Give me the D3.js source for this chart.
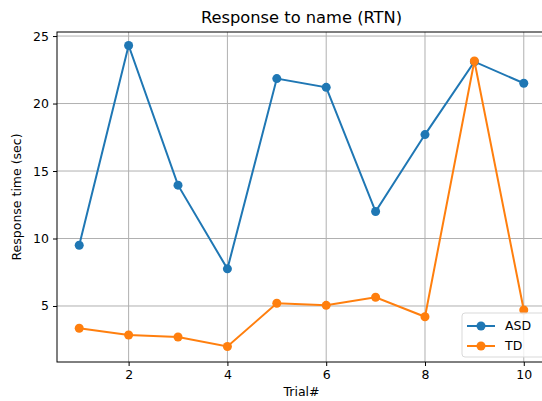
<!DOCTYPE html>
<html>
<head>
<meta charset="utf-8">
<script src="https://cdn.jsdelivr.net/npm/d3@7"></script>
<style>
	body { margin: 0; background: #fff; }
	svg { display: block; font-family: 'DejaVu Sans', sans-serif; }
</style>
</head>
<body>
<svg id="chart"></svg>
<script>
// data
const trials = [1, 2, 3, 4, 5, 6, 7, 8, 9, 10] ;
const asd = [9.5, 24.3, 13.95, 7.75, 21.85, 21.2, 12.0, 17.7, 23.1, 21.5] ;
const td = [3.35, 2.85, 2.7, 2.0, 5.2, 5.05, 5.65, 4.2, 23.15, 4.7] ;
const xTicks = [2, 4, 6, 8, 10] ;
const yTicks = [5, 10, 15, 20, 25] ;
const seriesNames = ['ASD', 'TD'] ;
const seriesColors = ['#1f77b4', '#ff7f0e'] ;

const geom = {
	width: 542,
	height: 401,
	margins: { top: 32, right: -4, bottom: 39, left: 57 }
} ;

const x = d3.scaleLinear()
	.domain([0.55, 10.45])
	.range([geom.margins.left, geom.width - geom.margins.right]) ;
const y = d3.scaleLinear()
	.domain([0.85, 25.3])
	.range([geom.height - geom.margins.bottom, geom.margins.top]) ;

const svg = d3.select('#chart')
	.attr('width', geom.width)
	.attr('height', geom.height) ;

const x0 = x.range()[0], x1 = x.range()[1] ;
const y0 = y.range()[0], y1 = y.range()[1] ;

// grid
svg.selectAll('line.vgrid')
	.data(xTicks)
	.enter()
	.append('line')
	.attr('class', 'vgrid')
	.attr('x1', d => x(d)).attr('x2', d => x(d))
	.attr('y1', y0).attr('y2', y1)
	.attr('stroke', '#b0b0b0')
	.attr('stroke-width', 1) ;

svg.selectAll('line.hgrid')
	.data(yTicks)
	.enter()
	.append('line')
	.attr('class', 'hgrid')
	.attr('x1', x0).attr('x2', x1)
	.attr('y1', d => y(d)).attr('y2', d => y(d))
	.attr('stroke', '#b0b0b0')
	.attr('stroke-width', 1) ;

// series
const line = d3.line()
	.x((d, i) => x(trials[i]))
	.y(d => y(d)) ;

[asd, td].forEach((vals, k) => {
	svg.append('path')
		.datum(vals)
		.attr('d', line)
		.attr('fill', 'none')
		.attr('stroke', seriesColors[k])
		.attr('stroke-width', 2) ;
	svg.selectAll('circle.s' + k)
		.data(vals)
		.enter()
		.append('circle')
		.attr('class', 's' + k)
		.attr('cx', (d, i) => x(trials[i]))
		.attr('cy', d => y(d))
		.attr('r', 4.5)
		.attr('fill', seriesColors[k]) ;
}) ;

// frame
svg.append('rect')
	.attr('x', x0).attr('y', y1)
	.attr('width', x1 - x0).attr('height', y0 - y1)
	.attr('fill', 'none')
	.attr('stroke', '#000')
	.attr('stroke-width', 1) ;

// axes
const xAxis = svg.append('g')
	.attr('transform', 'translate(0,' + y0 + ')')
	.call(d3.axisBottom(x).tickValues(xTicks).tickSize(4).tickPadding(4)) ;
const yAxis = svg.append('g')
	.attr('transform', 'translate(' + x0 + ',0)')
	.call(d3.axisLeft(y).tickValues(yTicks).tickSize(4).tickPadding(4)) ;
[xAxis, yAxis].forEach(g => {
	g.select('.domain').remove() ;
	g.selectAll('text')
		.attr('font-family', 'DejaVu Sans, sans-serif')
		.attr('font-size', 12.5)
		.attr('fill', '#000') ;
	g.selectAll('line').attr('stroke', '#000') ;
}) ;

// labels
svg.append('text')
	.attr('x', (x0 + x1) / 2)
	.attr('y', 23)
	.attr('text-anchor', 'middle')
	.attr('font-size', 16.3)
	.text('Response to name (RTN)') ;

svg.append('text')
	.attr('x', (x0 + x1) / 2)
	.attr('y', 396)
	.attr('text-anchor', 'middle')
	.attr('font-size', 12.5)
	.text('Trial#') ;

svg.append('text')
	.attr('transform', 'translate(21,' + ((y0 + y1) / 2) + ') rotate(-90)')
	.attr('text-anchor', 'middle')
	.attr('font-size', 12.5)
	.text('Response time (sec)') ;

// legend
const legend = svg.append('g')
	.attr('transform', 'translate(462,313)') ;
legend.append('rect')
	.attr('width', 86).attr('height', 44)
	.attr('rx', 3)
	.attr('fill', 'rgba(255,255,255,0.8)')
	.attr('stroke', '#d9d9d9') ;
seriesNames.forEach((name, k) => {
	const ly = 13 + k * 20 ;
	legend.append('line')
		.attr('x1', 5).attr('x2', 33)
		.attr('y1', ly).attr('y2', ly)
		.attr('stroke', seriesColors[k])
		.attr('stroke-width', 2) ;
	legend.append('circle')
		.attr('cx', 19).attr('cy', ly)
		.attr('r', 4.5)
		.attr('fill', seriesColors[k]) ;
	legend.append('text')
		.attr('x', 43).attr('y', ly)
		.attr('dy', '0.35em')
		.attr('font-size', 12.5)
		.text(name) ;
}) ;
</script>
</body>
</html>
